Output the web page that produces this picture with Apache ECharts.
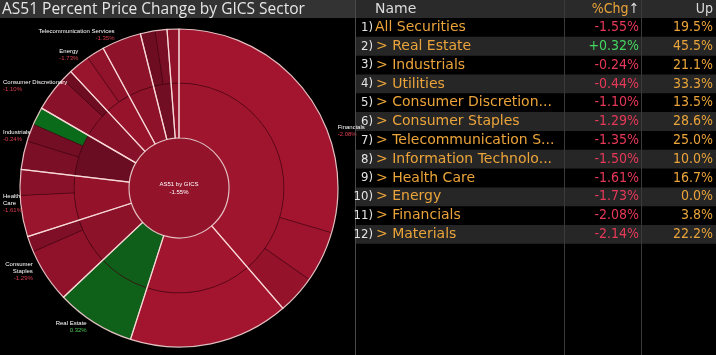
<!DOCTYPE html>
<html><head><meta charset="utf-8">
<script src="https://cdn.jsdelivr.net/npm/echarts@6/dist/echarts.min.js"></script>
<style>html,body{margin:0;padding:0;background:#000}#c{width:716px;height:355px}</style>
</head><body><div id="c"></div>
<script>
// ---------- data ----------
const titleText = 'AS51 Percent Price Change by GICS Sector';
const rootName = 'AS51 by GICS';
const rootChg = -1.55;
// sectors in sunburst order (clockwise from 12 o'clock), weights in % of index
const sectors = ['Financials','Materials','Real Estate','Consumer Staples','Health Care','Industrials','Consumer Discretionary','Energy','Telecommunication Services','Utilities','Information Technology'];
const sectorLabels = ['Financials', '', 'Real Estate', 'Consumer\nStaples', 'Health\nCare', 'Industrials', 'Consumer Discretionary', 'Energy', 'Telecommunication Services', '', ''];
const sectorWeights = [38.6, 16.25, 8.0, 7.1, 6.8, 6.5, 4.7, 4.0, 4.0, 2.7, 1.2];
const sectorChg = [-2.08, -2.14, 0.32, -1.29, -1.61, -0.24, -1.10, -1.73, -1.35, -0.44, -1.50];
// industry pieces in the outer ring (weights and estimated % change)
const subWeights = [[29.5, 5.2, 3.9], [16.25], [8.0], [5.5, 1.6], [4.2, 2.6], [2.9, 1.8, 1.8], [3.6, 1.1], [2.2, 1.8], [4.0], [1.5, 1.2], [1.2]];
const subChg = [[-2.2, -2.0, -1.6], [-2.2], [0.35], [-1.4, -0.8], [-1.8, -1.2], [-0.7, -0.5, 0.6], [-1.2, -0.3], [-1.8, -1.5], [-1.35], [-0.3, -0.6], [-1.5]];
// which outside labels hug the left edge of the panel
const edgeLabels = ['Consumer Discretionary', 'Industrials', 'Health Care'];

// table
const tableHeader = ['Name', '%Chg', 'Up'];
const tableNames = ['All Securities', 'Real Estate', 'Industrials', 'Utilities', 'Consumer Discretion...', 'Consumer Staples', 'Telecommunication S...', 'Information Technolo...', 'Health Care', 'Energy', 'Financials', 'Materials'];
const tableChg = [-1.55, 0.32, -0.24, -0.44, -1.10, -1.29, -1.35, -1.50, -1.61, -1.73, -2.08, -2.14];
const tableUp = [19.5, 45.5, 21.1, 33.3, 13.5, 28.6, 25.0, 10.0, 16.7, 0.0, 3.8, 22.2];

// ---------- helpers ----------
function mix(a, b, t) { return 'rgb(' + a.map((v, i) => Math.round(v + (b[i] - v) * t)).join(',') + ')'; }
function heat(c) {
  if (c >= 0) { const t = Math.min(c / 0.5, 1); return mix([25, 70, 25], [10, 108, 26], t); }
  const t = Math.pow(Math.min(-c / 2.2, 1), 0.8);
  return mix([96, 11, 31], [163, 21, 47], t);
}
function fmtPct(c, plus) { return (c > 0 && plus ? '+' : '') + c.toFixed(2) + '%'; }

// ---------- sunburst data ----------
const sunData = [{
  name: rootName, chg: rootChg,
  itemStyle: { color: heat(rootChg) },
  children: sectors.map((s, i) => ({
    name: s, value: sectorWeights[i], chg: sectorChg[i],
    itemStyle: { color: heat(sectorChg[i]) },
    children: subWeights[i].map((w, j) => ({
      name: s + ' ' + (j + 1), value: w, chg: subChg[i][j],
      itemStyle: { color: heat(subChg[i][j]) }
    }))
  }))
}];

const CX = 179, CY = 188, R0 = 50, R1 = 105, R2 = 159;

// ---------- table graphics ----------
const G = [];
const FONT_NAME = '14px "DejaVu Sans"';
const FONT_NUM = '14px "DejaVu Sans Condensed"';
const FONT_IDX = '13px "Liberation Sans Narrow","DejaVu Sans Condensed"';
const ORANGE = '#eba43a';
const RED = 'rgb(232,56,88)';
const GREEN = 'rgb(70,214,96)';
const TX = 356, TW = 716 - 356, TOP = 18, RH = 18.82;
function txt(x, y, text, fill, font, align) {
  return { type: 'text', silent: true, z: 10, style: { x: x, y: y, text: text, fill: fill, font: font, align: align, verticalAlign: 'middle', textAlign: align, textVerticalAlign: 'middle' } };
}
// title bar
G.push({ type: 'rect', silent: true, z: 1, shape: { x: 0, y: 0, width: 355, height: 18 }, style: { fill: '#333333' } });
G.push(txt(2, 9.5, titleText, '#e6e6e6', '15.5px "Open Sans"', 'left'));
// table header
G.push({ type: 'rect', silent: true, z: 1, shape: { x: TX, y: 0, width: TW, height: 18 }, style: { fill: '#2a2a2a' } });
G.push(txt(375, 9.5, tableHeader[0], '#dcdcdc', FONT_NAME, 'left'));
G.push({ type: 'text', silent: true, z: 10, style: { x: 639, y: 9.5, text: '{o|' + tableHeader[1] + '}{w|\u2191}', align: 'right', verticalAlign: 'middle', textAlign: 'right', textVerticalAlign: 'middle', rich: { o: { fill: ORANGE, font: FONT_NUM }, w: { fill: '#dcdcdc', font: FONT_NUM } } } });
G.push(txt(713, 9.5, tableHeader[2], '#dcdcdc', FONT_NUM, 'right'));
// rows
tableNames.forEach((n, i) => {
  const y0 = TOP + i * RH, yc = y0 + RH / 2;
  if (i % 2 === 1) G.push({ type: 'rect', silent: true, z: 1, shape: { x: TX, y: y0, width: TW, height: RH }, style: { fill: '#262626' } });
  G.push(txt(373, yc, (i + 1) + ')', '#e4e4e4', FONT_IDX, 'right'));
  G.push(txt(i === 0 ? 375 : 376, yc, (i === 0 ? '' : '> ') + n, ORANGE, FONT_NAME, 'left'));
  G.push(txt(639, yc, fmtPct(tableChg[i], true), tableChg[i] >= 0 ? GREEN : RED, FONT_NUM, 'right'));
  G.push(txt(713, yc, tableUp[i].toFixed(1) + '%', ORANGE, FONT_NUM, 'right'));
});
// separators
[355.5, 564.5, 641.5].forEach((x, k) => {
  G.push({ type: 'line', silent: true, z: 5, shape: { x1: x, y1: 0, x2: x, y2: 355 }, style: { stroke: k === 0 ? '#4a4a4a' : '#3a3a3a', lineWidth: 1 } });
});

// ---------- chart ----------
const chart = echarts.init(document.getElementById('c'));
chart.setOption({
  backgroundColor: '#000',
  animation: false,
  graphic: G,
  series: [
    {
      type: 'sunburst',
      center: [CX, CY],
      radius: [0, R2],
      startAngle: 90,
      clockwise: true,
      sort: null,
      nodeClick: false,
      emphasis: { disabled: true },
      data: sunData,
      levels: [
        {},
        { r0: 0, r: R0, itemStyle: { borderWidth: 0 },
          label: { show: true, rotate: 0, align: 'center', color: '#fff', fontSize: 6, lineHeight: 8, fontFamily: 'Liberation Sans',
            formatter: p => p.name + '\n' + fmtPct(p.data.chg, false) } },
        { r0: R0, r: R1, itemStyle: { borderWidth: 0.7, borderColor: 'rgba(70,5,18,0.7)' }, label: { show: false } },
        { r0: R1, r: R2, itemStyle: { borderWidth: 0.7, borderColor: 'rgba(70,5,18,0.7)' }, label: { show: false } }
      ]
    },
    {
      type: 'pie',
      center: [CX, CY],
      radius: [R0, R2],
      startAngle: 90,
      clockwise: true,
      silent: true,
      z: 3,
      avoidLabelOverlap: false,
      data: sectors.map((s, i) => ({
        name: s, value: sectorWeights[i],
        itemStyle: { color: 'rgba(0,0,0,0)', borderColor: 'rgba(255,222,222,0.85)', borderWidth: 1.2 },
        label: edgeLabels.indexOf(s) >= 0
          ? { show: true, alignTo: 'edge', edgeDistance: 3 }
          : { show: sectorLabels[i] !== '' }
      })),
      label: {
        position: 'outside',
        overflow: 'none',
        fontFamily: 'Liberation Sans',
        formatter: p => {
          const i = p.dataIndex;
          const lines = sectorLabels[i].split('\n').map(t => '{n|' + t + '}');
          lines.push('{' + (sectorChg[i] >= 0 ? 'g' : 'r') + '|' + fmtPct(sectorChg[i], false) + '}');
          return lines.join('\n');
        },
        rich: {
          n: { color: '#ffffff', fontSize: 6, lineHeight: 7, fontFamily: 'Liberation Sans' },
          r: { color: 'rgb(220,60,80)', fontSize: 6, lineHeight: 7, fontFamily: 'Liberation Sans' },
          g: { color: 'rgb(70,200,80)', fontSize: 6, lineHeight: 7, fontFamily: 'Liberation Sans' }
        }
      },
      labelLine: { show: false, length: 5, length2: 0 }
    }
  ]
});
</script>
</body></html>
